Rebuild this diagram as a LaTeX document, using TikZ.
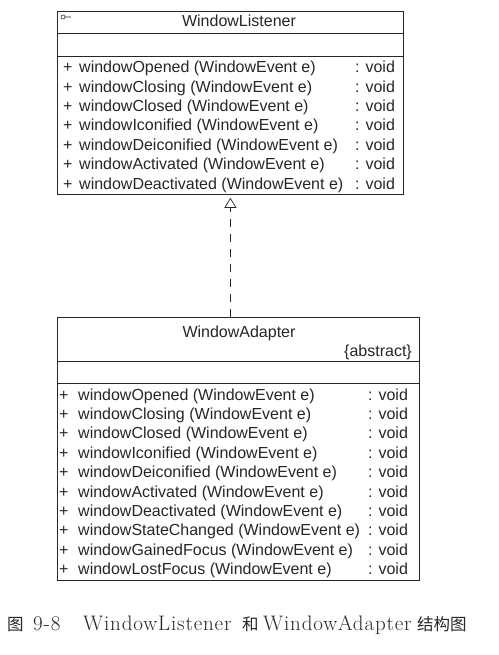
\documentclass[tikz,border=0pt]{standalone}
\usepackage{fontspec}
\newfontfamily\umlfont{Liberation Sans}
\newfontfamily\cjk{Noto Sans CJK SC}
\newfontfamily\capfont[LetterSpace=4]{Latin Modern Roman}
\usetikzlibrary{arrows.meta}
\begin{document}
\begin{tikzpicture}[x=1pt,y=-1pt,
  box/.style={draw=black!85, line width=0.8pt, inner sep=0pt, anchor=north west},
  txt/.style={font=\umlfont\fontsize{16}{18}\selectfont, inner sep=0pt, text=black!85},
  row/.style={txt, anchor=base west},
  sepline/.style={draw=black!85, line width=0.8pt},
  realize/.style={draw=black!85, line width=0.7pt, dash pattern=on 8pt off 7pt,
    -{Triangle[open, width=12pt, length=10pt, line width=0.7pt]}},
  captext/.style={inner sep=0pt, anchor=base west, text=black!85}]
\useasboundingbox (0,0) rectangle (498,655);
% WindowListener
\node[box, minimum width=346pt, minimum height=183pt] (L) at (57,11) {};
\draw[sepline] (57,33) -- (403,33);
\draw[sepline] (57,56) -- (403,56);
\draw[black!85, line width=0.6pt] (63,17) circle (2) (65,17) -- (71,17);
\node[txt, anchor=base] (Ltitle) at (239,27) {WindowListener};
\foreach \m [count=\i from 0] in {windowOpened,windowClosing,windowClosed,windowIconified,windowDeiconified,windowActivated,windowDeactivated}{
  \node[row] (lp\i) at (63,{72.7+19.4*\i}) {+};
  \node[row] (lm\i) at (79,{72.7+19.4*\i}) {\m\ (WindowEvent e)};
  \node[row] (lv\i) at (355,{72.7+19.4*\i}) {: void};
}
% WindowAdapter
\node[box, minimum width=362pt, minimum height=263pt] (A) at (57,317) {};
\draw[sepline] (57,361) -- (419,361);
\draw[sepline] (57,383) -- (419,383);
\node[txt, anchor=base] (Atitle) at (239,337) {WindowAdapter};
\node[txt, anchor=base east] (Aabs) at (412,356) {\{abstract\}};
\foreach \m [count=\i from 0] in {windowOpened,windowClosing,windowClosed,windowIconified,windowDeiconified,windowActivated,windowDeactivated,windowStateChanged,windowGainedFocus,windowLostFocus}{
  \node[row] (ap\i) at (59,{400+19.4*\i}) {+};
  \node[row] (am\i) at (78,{400+19.4*\i}) {\m\ (WindowEvent e)};
  \node[row] (av\i) at (368,{400+19.4*\i}) {: void};
}
% realization
\draw[realize, shorten >=3pt] (A.north -| L.south) -- (L.south);
% caption
\node[captext, font=\cjk\fontsize{16.5}{18}\selectfont] (c1) at (7,630) {图};
\node[captext, font=\capfont\fontsize{21}{24}\selectfont] (c2) at (33,630) {9-8};
\node[captext, font=\capfont\fontsize{21}{24}\selectfont] (c3) at (83,630) {WindowListener};
\node[captext, font=\cjk\fontsize{16.5}{18}\selectfont] (c4) at (242,630) {和};
\node[captext, font=\capfont\fontsize{21}{24}\selectfont] (c5) at (263,630) {WindowAdapter};
\node[captext, font=\cjk\fontsize{16.5}{18}\selectfont] (c6) at (417,630) {结构图};
\end{tikzpicture}
\end{document}
